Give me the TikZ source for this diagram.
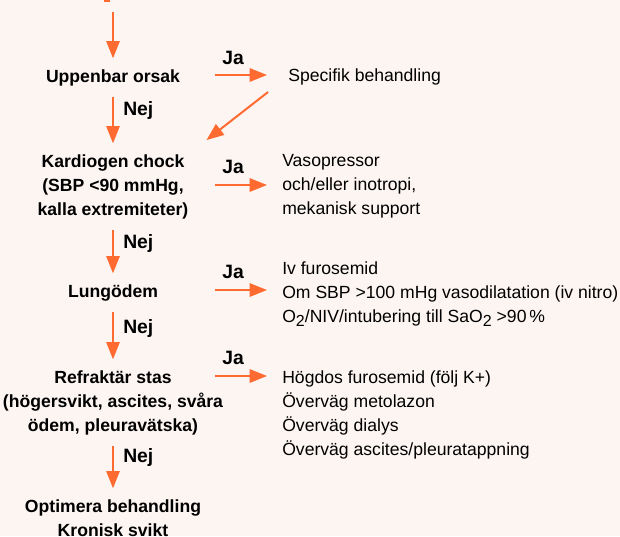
\documentclass[tikz,border=0pt]{standalone}
\usepackage{fontspec}
\setmainfont{Liberation Sans}
\usetikzlibrary{arrows.meta}
\definecolor{bakgrund}{RGB}{253,245,242}
\definecolor{pilfarg}{RGB}{255,106,48}
\newcommand{\nedre}[1]{\raisebox{-0.45ex}{\fontsize{12}{12}\selectfont #1}}

\begin{document}
\begin{tikzpicture}[x=0.75pt,y=0.75pt,yscale=-1,xscale=1,
  pil/.style={draw=pilfarg, line width=1.5pt, -{Triangle[length=13pt,width=10pt]}, shorten <=8pt, shorten >=8pt},
  steg/.style={font=\bfseries\fontsize{13.2}{18}\selectfont, align=center, inner sep=0pt, anchor=north},
  atgard/.style={font=\fontsize{13.2}{18}\selectfont, align=left, inner sep=0pt, anchor=north west},
  svar/.style={font=\bfseries\fontsize{14.5}{18}\selectfont, inner sep=0pt}]
\useasboundingbox (0,0) rectangle (620,536);
\fill[bakgrund] (0,0) rectangle (620,536);
%rest of the arrow coming from above
\fill[pilfarg] (104,0) rectangle (110,1.5);

% left column
\node[steg] (orsak) at (113,69) {Uppenbar orsak};
\node[steg] (chock) at (113,154) {Kardiogen chock\\(SBP <90 mmHg,\\kalla extremiteter)};
\node[steg] (lunga) at (113,284) {Lungödem};
\node[steg] (stas) at (113,370) {Refraktär stas\\(högersvikt, ascites, svåra\\ödem, pleuravätska)};
\node[steg] (optimera) at (113,499) {Optimera behandling\\Kronisk svikt};

% right column
\node[atgard] (spec) at (288,68) {Specifik behandling};
\node[atgard] (vaso) at (282,154) {Vasopressor\\och/eller inotropi,\\mekanisk support};
\node[atgard] (furo) at (282,261) {Iv furosemid\\Om SBP >100 mHg vasodilatation (iv nitro)\\O\nedre{2}/NIV/intubering till SaO\nedre{2} >90\,\%};
\node[atgard] (hogdos) at (282,370) {Högdos furosemid (följ K+)\\Överväg metolazon\\Överväg dialys\\Överväg ascites/pleuratappning};

% answers
\node[svar, anchor=base] (ja1) at (233,64) {Ja};
\node[svar, anchor=base] (ja2) at (233,173) {Ja};
\node[svar, anchor=base] (ja3) at (233,278) {Ja};
\node[svar, anchor=base] (ja4) at (233,364) {Ja};
\node[svar, anchor=base west] (nej1) at (123,115) {Nej};
\node[svar, anchor=base west] (nej2) at (123,248) {Nej};
\node[svar, anchor=base west] (nej3) at (123,333) {Nej};
\node[svar, anchor=base west] (nej4) at (123,462) {Nej};

% arrows
\coordinate (topp) at (113,12);
\draw[pil, shorten <=0pt] (topp) -- (orsak.north);
\draw[pil] (orsak.south) -- (chock.north);
\draw[pil] (chock.south) -- (lunga.north);
\draw[pil] (lunga.south) -- (stas.north);
\draw[pil] (stas.south) -- (optimera.north);

\coordinate (ja1v) at (215,75);
\coordinate (ja2v) at (215,185);
\coordinate (ja3v) at (215,290);
\coordinate (ja4v) at (215,376);
\draw[pil, shorten <=0pt, shorten >=15.75pt] (ja1v) -- (ja1v -| spec.west);
\draw[pil, shorten <=0pt, shorten >=11.25pt] (ja2v) -- (ja2v -| vaso.west);
\draw[pil, shorten <=0pt, shorten >=11.25pt] (ja3v) -- (ja3v -| furo.west);
\draw[pil, shorten <=0pt, shorten >=11.25pt] (ja4v) -- (ja4v -| hogdos.west);

\draw[pil, shorten <=19pt, shorten >=17pt] (spec.west) -- (chock.north east);

\end{tikzpicture}
\end{document}
